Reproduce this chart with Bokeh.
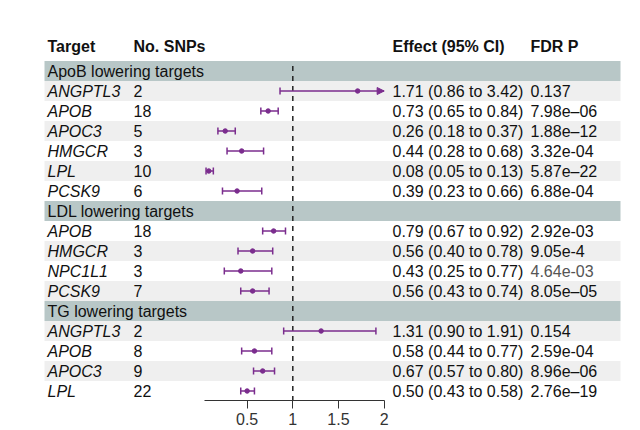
from bokeh.plotting import figure
from bokeh.models import Range1d, FixedTicker, ColumnDataSource, Arrow, NormalHead
from bokeh.core.properties import value
from bokeh.embed import file_html
from bokeh.resources import INLINE

# ---------------- data ----------------
group_names = ["ApoB lowering targets", "LDL lowering targets", "TG lowering targets"]
group_sizes = [6, 4, 4]
targets = ["ANGPTL3", "APOB", "APOC3", "HMGCR", "LPL", "PCSK9",
           "APOB", "HMGCR", "NPC1L1", "PCSK9",
           "ANGPTL3", "APOB", "APOC3", "LPL"]
n_snps = [2, 18, 5, 3, 10, 6,
          18, 3, 3, 7,
          2, 8, 9, 22]
effect = [1.71, 0.73, 0.26, 0.44, 0.08, 0.39,
          0.79, 0.56, 0.43, 0.56,
          1.31, 0.58, 0.67, 0.50]
ci_low = [0.86, 0.65, 0.18, 0.28, 0.05, 0.23,
          0.67, 0.40, 0.25, 0.43,
          0.90, 0.44, 0.57, 0.43]
ci_high = [3.42, 0.84, 0.37, 0.68, 0.13, 0.66,
           0.92, 0.78, 0.77, 0.74,
           1.91, 0.77, 0.80, 0.58]
fdr_p = ["0.137", "7.98e\u201306", "1.88e\u201312", "3.32e-04", "5.87e\u201322", "6.88e-04",
         "2.92e-03", "9.05e-4", "4.64e-03", "8.05e\u201305",
         "0.154", "2.59e-04", "8.96e\u201306", "2.76e\u201319"]
x_ticks = [0.5, 1, 1.5, 2]
x_tick_labels = ["0.5", "1", "1.5", "2"]
headers = ["Target", "No. SNPs", "Effect (95% CI)", "FDR P"]

# ---------------- style ----------------
FONT = "Liberation Sans"
PURPLE = "#7b2d8e"
BAND = "#b8c7c7"
ALT = "#efefef"
TXT = "#111111"
AXIS_MIN, AXIS_MAX = 0.03, 2.0
col_x = [47, 133, 392, 530]   # page-pixel columns (extra range "px")
row_left, row_right = 44, 620

# row layout (row index k, plotted at y = -k)
band_k, item_k = [], []
k = 1
for g, n in zip(group_names, group_sizes):
    band_k.append(k)
    k += 1
    for _ in range(n):
        item_k.append(k)
        k += 1

p = figure(frame_width=640, frame_height=400,
           x_range=Range1d(-2.2005, 4.807), y_range=Range1d(-17.475, 2.525),
           output_backend="svg", toolbar_location=None, y_axis_location=None,
           min_border=0, outline_line_color=None, background_fill_color="white",
           border_fill_color="white")
p.extra_x_ranges = {"px": Range1d(0, 640)}
p.xgrid.visible = False
p.ygrid.visible = False

# backgrounds
alt_y = [-kk for kk in item_k if kk % 2 == 0]
p.quad(left=row_left, right=row_right, top=[y + 0.5 for y in alt_y], bottom=[y - 0.5 for y in alt_y],
       fill_color=ALT, line_color=None, x_range_name="px")
band_y = [-kk for kk in band_k]
p.quad(left=row_left, right=row_right, top=[y + 0.5 for y in band_y], bottom=[y - 0.5 for y in band_y],
       fill_color=BAND, line_color=None, x_range_name="px")

# reference line
p.segment(x0=[1], x1=[1], y0=[-0.75], y1=[-17.475], line_color="#222222", line_width=1.5, line_dash="5 5")

# CIs
iy = [-kk for kk in item_k]
x_hi = [min(h, AXIS_MAX) for h in ci_high]
p.segment(x0=ci_low, x1=x_hi, y0=iy, y1=iy, line_color=PURPLE, line_width=1.5)
cap = 0.17
p.segment(x0=ci_low, x1=ci_low, y0=[y - cap for y in iy], y1=[y + cap for y in iy], line_color=PURPLE, line_width=1.5)
capped = [(h, y) for h, y in zip(ci_high, iy) if h <= AXIS_MAX]
p.segment(x0=[c[0] for c in capped], x1=[c[0] for c in capped],
          y0=[c[1] - cap for c in capped], y1=[c[1] + cap for c in capped], line_color=PURPLE, line_width=1.5)
arrows = [y for h, y in zip(ci_high, iy) if h > AXIS_MAX]
if arrows:
    asrc = ColumnDataSource(dict(x0=[AXIS_MAX - 0.05] * len(arrows), x1=[AXIS_MAX] * len(arrows), y=arrows))
    p.add_layout(Arrow(end=NormalHead(size=7, fill_color=PURPLE, line_color=PURPLE),
                       x_start="x0", x_end="x1", y_start="y", y_end="y", source=asrc,
                       line_color=PURPLE, line_width=1.5))
p.scatter(x=effect, y=iy, size=4.5, marker="circle", fill_color=PURPLE, line_color=PURPLE)

# texts
common = dict(text_font=value(FONT), text_font_size="16px", text_baseline="middle", x_range_name="px")
p.text(x=col_x, y=[0.225] * 4, text=headers, text_color=TXT, text_font_style="bold", **common)
p.text(x=[col_x[0]] * len(group_names), y=band_y, text=group_names, text_color=TXT, **common)
p.text(x=[col_x[0]] * len(targets), y=iy, text=targets, text_color=TXT, text_font_style="italic", **common)
p.text(x=[col_x[1]] * len(targets), y=iy, text=[str(n) for n in n_snps], text_color=TXT, **common)
eff_txt = [f"{e:.2f} ({lo:.2f} to {hi:.2f})" for e, lo, hi in zip(effect, ci_low, ci_high)]
p.text(x=[col_x[2]] * len(targets), y=iy, text=eff_txt, text_color=TXT, **common)
fdr_col = [("#555555" if t == "NPC1L1" else TXT) for t in targets]
p.text(x=[col_x[3]] * len(targets), y=iy, text=fdr_p, text_color=fdr_col, **common)

# axis
ax = p.xaxis[0]
ax.ticker = FixedTicker(ticks=x_ticks, minor_ticks=[])
ax.major_label_overrides = {t: l for t, l in zip(x_ticks, x_tick_labels)}
ax.bounds = (AXIS_MIN, AXIS_MAX)
ax.axis_line_color = "#333333"
ax.major_tick_line_color = "#333333"
ax.major_tick_out = 8
ax.major_tick_in = 0
ax.minor_tick_line_color = None
ax.major_label_standoff = 4
ax.major_label_text_font = FONT
ax.major_label_text_font_size = "16px"
ax.major_label_text_color = "#333333"

open("out.html", "w").write(file_html(p, INLINE))
